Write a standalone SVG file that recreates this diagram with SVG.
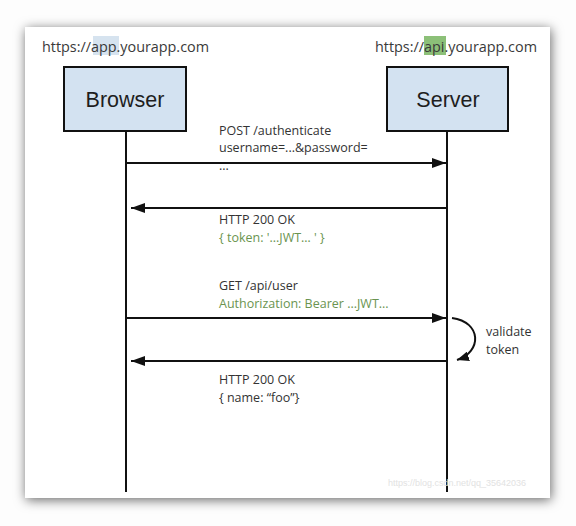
<svg xmlns="http://www.w3.org/2000/svg" width="576" height="526" viewBox="0 0 576 526">
<style>
.url{font-family:"Open Sans","Noto Sans",sans-serif;font-size:14.4px;fill:#3a3a3a}
.box{fill:#d3e2f1;stroke:#111;stroke-width:2}
.title{font-family:"Liberation Sans",Arial,sans-serif;font-size:21.5px;fill:#1e1e1e;text-anchor:middle}
.lbl{font-family:"Open Sans","Noto Sans",sans-serif;font-size:12.5px;fill:#333}
.grn{fill:#6a9450}
.life{stroke:#111;stroke-width:2;fill:none}
.msg{stroke:#111;stroke-width:2;fill:none}
.wm{font-family:"Liberation Sans",Arial,sans-serif;font-size:9px;fill:#e2e2e2}
</style>
<defs>
<filter id="sh" x="-10%" y="-10%" width="120%" height="120%">
<feDropShadow dx="1" dy="2" stdDeviation="6" flood-color="#000" flood-opacity="0.6"/>
</filter>
<marker id="ah" viewBox="0 0 14 10" refX="14" refY="5" markerWidth="14" markerHeight="10" markerUnits="userSpaceOnUse" orient="auto">
<path d="M0,0 L14,5 L0,10 Z" fill="#111"/>
</marker>
<marker id="ah2" viewBox="0 0 12 10" refX="12" refY="5" markerWidth="12" markerHeight="10" markerUnits="userSpaceOnUse" orient="auto">
<path d="M0,0 L12,5 L0,10 Z" fill="#111"/>
</marker>
</defs>
<rect x="0" y="0" width="576" height="526" fill="#fdfdfd"/>
<rect x="25" y="27" width="525" height="471" fill="#fff" filter="url(#sh)"/>
<rect x="93" y="36" width="26" height="19" fill="#d6e3ef"/>
<rect x="424" y="36" width="22" height="19" fill="#8cc078"/>
<text class="url" x="42" y="52" textLength="167">https://app.yourapp.com</text>
<text class="url" x="375" y="52" textLength="162">https://api.yourapp.com</text>
<g id="browser">
<rect class="box" x="64" y="67" width="122" height="64"/>
<text class="title" x="125" y="107">Browser</text>
</g>
<g id="server">
<rect class="box" x="387" y="67" width="121" height="64"/>
<text class="title" x="448" y="107">Server</text>
</g>
<g id="connectors">
<line class="life" x1="126" y1="131" x2="126" y2="492"/>
<line class="life" x1="447" y1="131" x2="447" y2="492"/>
<line class="msg" x1="126" y1="163" x2="446" y2="163" marker-end="url(#ah)"/>
<line class="msg" x1="446" y1="208" x2="131" y2="208" marker-end="url(#ah)"/>
<line class="msg" x1="126" y1="318" x2="446" y2="318" marker-end="url(#ah)"/>
<line class="msg" x1="446" y1="361" x2="131" y2="361" marker-end="url(#ah)"/>
<path class="msg" d="M452,318 C482,322 482,352 457,360" marker-end="url(#ah2)"/>
</g>
<g id="labels">
<text class="lbl" x="219" y="134.5">POST /authenticate</text>
<text class="lbl" x="219" y="152">username=...&amp;password=</text>
<text class="lbl" x="219" y="170">...</text>
<text class="lbl" x="219" y="224">HTTP 200 OK</text>
<text class="lbl grn" x="219" y="241.5">{ token: '...JWT… ' }</text>
<text class="lbl" x="219" y="290">GET /api/user</text>
<text class="lbl grn" x="219" y="307.5">Authorization: Bearer ...JWT...</text>
<text class="lbl" x="486" y="336">validate</text>
<text class="lbl" x="486" y="353.5">token</text>
<text class="lbl" x="219" y="384">HTTP 200 OK</text>
<text class="lbl" x="219" y="401.5">{ name: “foo”}</text>
</g>
<text class="wm" x="388" y="486">https://blog.csdn.net/qq_35642036</text>
</svg>
